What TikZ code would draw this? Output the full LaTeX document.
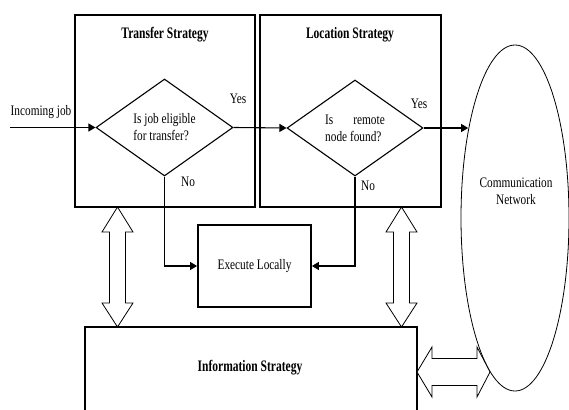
\documentclass[tikz,border=0pt]{standalone}
\usepackage{fontspec}
\setmainfont{Liberation Serif}
\newfontfamily\bodyf[FakeStretch=0.78]{Liberation Serif}
\newfontfamily\titlef[FakeStretch=0.72]{Liberation Serif}
\usetikzlibrary{shapes.geometric,arrows.meta,calc}
\begin{document}
\begin{tikzpicture}[x=1pt,y=-1pt,
 box/.style={draw,line width=1.8pt,inner sep=0pt},
 dec/.style={draw,diamond,line width=1.1pt,inner sep=0pt,align=left,font=\bodyf\fontsize{14.5}{17}\selectfont},
 title/.style={font=\titlef\bfseries\fontsize{16}{18}\selectfont,inner sep=0pt},
 lbl/.style={font=\bodyf\fontsize{14.5}{17}\selectfont,inner sep=0pt},
 conn/.style={line width=1.1pt,-{Triangle[length=7pt,width=8pt]}},
 dbl/.style={draw,line width=0.8pt,fill=white},
]
\useasboundingbox (0,0) rectangle (569,409);
\clip (0,0) rectangle (569,409);

% boxes
\node[box,minimum width=180pt,minimum height=192pt] (tr) at (165,111) {};
\node[box,minimum width=181pt,minimum height=192pt] (lo) at (350.5,111) {};
\node[box,minimum width=113pt,minimum height=82pt,lbl] (ex) at (254.5,266) {Execute Locally};
\node[box,minimum width=332pt,minimum height=98pt] (in) at (251,376) {};

% titles
\node[title] (trt) at (165,35) {Transfer Strategy};
\node[title] (lot) at (350,35) {Location Strategy};
\node[title] (int) at (250,368) {Information Strategy};

% decisions
\node[dec,minimum width=137pt,minimum height=97pt] (d1) at (164.5,127.5) {Is job eligible\\for transfer?};
\node[dec,minimum width=136pt,minimum height=96pt] (d2) at (355,128) {Is\hspace{20pt}remote\\node found?};

% network
\node[draw,ellipse,line width=0.8pt,minimum width=108pt,minimum height=346pt,inner sep=0pt] (net) at (515,218) {};
\node[lbl,align=center] (nett) at (516,191) {Communication\\Network};

% labels
\node[lbl] (inj) at (41,112) {Incoming job};
\node[lbl] (y1) at (238,99) {Yes};
\node[lbl] (y2) at (419,104) {Yes};
\node[lbl] (n1) at (188,182) {No};
\node[lbl] (n2) at (368,186) {No};

% connectors
\coordinate (start) at (10,127.5);
\draw[conn] (start) -- (d1.west);
\draw[conn] (d1.east) -- (d2.west);
\draw[conn] (d2.east) -- (d2.east -| net.118);
\draw[conn] (d1.south) |- (ex.west);
\draw[conn] (d2.south) |- (ex.east);

% double arrows
\draw[dbl] (117.5,207) -- ++(15.5,25) -- ++(-7.5,0) -- ++(0,71) -- ++(7.5,0) -- ++(-15.5,24) -- ++(-15.5,-24) -- ++(7.5,0) -- ++(0,-71) -- ++(-7.5,0) -- cycle;
\draw[dbl] (401.5,207) -- ++(15.5,25) -- ++(-7.5,0) -- ++(0,71) -- ++(7.5,0) -- ++(-15.5,24) -- ++(-15.5,-24) -- ++(7.5,0) -- ++(0,-71) -- ++(-7.5,0) -- cycle;
\draw[dbl] (417,372) -- ++(15,-25) -- ++(0,11.5) -- ++(45,0) -- ++(0,-11.5) -- ++(13,25) -- ++(-13,25) -- ++(0,-11.5) -- ++(-45,0) -- ++(0,11.5) -- cycle;
\end{tikzpicture}
\end{document}
